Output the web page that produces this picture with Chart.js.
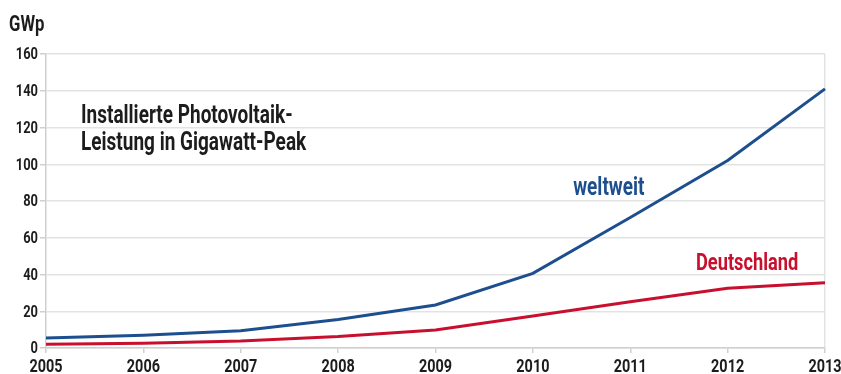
<!DOCTYPE html>
<html lang="de">
<head>
<meta charset="utf-8">
<title>Photovoltaik-Leistung</title>
<script src="https://cdn.jsdelivr.net/npm/chart.js@4/dist/chart.umd.min.js"></script>
<style>
  html, body { margin: 0; padding: 0; background: #fff; }
  #wrap { width: 841px; height: 374px; position: relative; }
</style>
</head>
<body>
<div id="wrap"><canvas id="pv-chart" width="841" height="374"></canvas></div>
<script>
const years       = ['2005', '2006', '2007', '2008', '2009', '2010', '2011', '2012', '2013'];
const weltweit    = [5.4, 7.0, 9.4, 15.5, 23.4, 40.6, 71, 102, 141];
const deutschland = [2.0, 2.6, 3.8, 6.2, 9.8, 17.4, 25.2, 32.5, 35.5];
const yTicks      = [0, 20, 40, 60, 80, 100, 120, 140, 160];

const FONT   = "Roboto, 'DejaVu Sans Condensed', sans-serif";
const BLUE   = '#1d4f8e';
const RED    = '#c8102e';
const GRID   = '#e3e3e3';
const AXIS   = '#cfcfcf';
const TEXT   = '#1c1c1c';
const SQUEEZE = 0.76;   // horizontal squeeze for the narrow lettering

function narrowText(ctx, text, x, y, size, color, align = 'left', baseline = 'alphabetic') {
  ctx.save();
  ctx.translate(x, y);
  ctx.scale(SQUEEZE, 1);
  ctx.font = `bold ${size}px ${FONT}`;
  ctx.fillStyle = color;
  ctx.textAlign = align;
  ctx.textBaseline = baseline;
  ctx.fillText(text, 0, 0);
  ctx.restore();
}

// tick labels, unit, headline and series labels in narrow lettering
const textLayer = {
  id: 'textLayer',
  afterDraw(chart) {
    const { ctx, scales: { x, y } } = chart;

    yTicks.forEach(v => narrowText(ctx, String(v), 38, y.getPixelForValue(v) + 1, 17, TEXT, 'right', 'middle'));
    years.forEach((lab, i) => narrowText(ctx, lab, x.getPixelForValue(i), 372, 19, TEXT, 'center'));

    narrowText(ctx, 'GWp', 9, 31, 22, TEXT);
    narrowText(ctx, 'Installierte Photovoltaik-', 81, 123, 25, TEXT);
    narrowText(ctx, 'Leistung in Gigawatt-Peak', 81, 150, 25, TEXT);

    narrowText(ctx, 'weltweit', x.getPixelForValue(5.78), y.getPixelForValue(83.3), 25, BLUE, 'center');
    narrowText(ctx, 'Deutschland', x.getPixelForValue(7.2), y.getPixelForValue(42.4), 24, RED, 'center');
  }
};

new Chart(document.getElementById('pv-chart'), {
  type: 'line',
  data: {
    labels: years,
    datasets: [
      { label: 'weltweit',    data: weltweit,    borderColor: BLUE, borderWidth: 3, pointRadius: 0, tension: 0 },
      { label: 'Deutschland', data: deutschland, borderColor: RED,  borderWidth: 3, pointRadius: 0, tension: 0 }
    ]
  },
  options: {
    responsive: false,
    animation: false,
    layout: { padding: { top: 54, right: 16, left: 0, bottom: 0 } },
    plugins: { legend: { display: false }, tooltip: { enabled: false } },
    scales: {
      x: {
        offset: false,
        grid: {
          color: ctx => (ctx.index === years.length - 1 ? GRID : 'rgba(0,0,0,0)'),
          tickColor: AXIS,
          tickLength: 5,
          lineWidth: 1.5
        },
        border: { color: AXIS, width: 1.5 },
        ticks: { display: false },
        afterFit: s => { s.height = 26; }
      },
      y: {
        min: 0,
        max: 160,
        afterBuildTicks: s => { s.ticks = yTicks.map(v => ({ value: v })); },
        grid: { color: GRID, lineWidth: 1.5, tickColor: AXIS, tickLength: 6 },
        border: { color: AXIS, width: 1.5 },
        ticks: { display: false },
        afterFit: s => { s.width = 46; }
      }
    }
  },
  plugins: [textLayer]
});
</script>
</body>
</html>
